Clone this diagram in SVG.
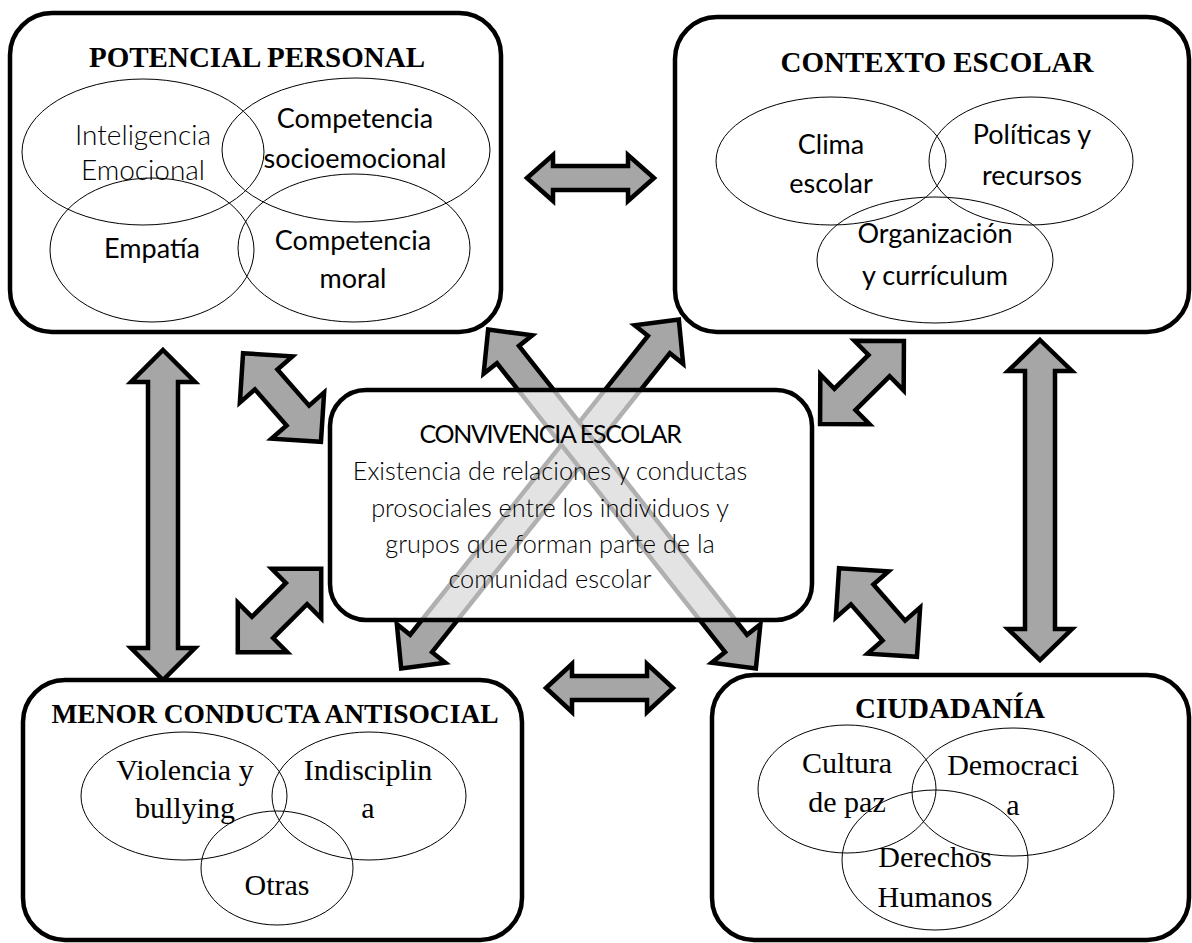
<svg xmlns="http://www.w3.org/2000/svg" width="1192" height="943" viewBox="0 0 1192 943">
<style>
.box{fill:#fff;stroke:#000;stroke-width:4.5}
.cbox{fill:#fff;fill-opacity:0.69;stroke:#000;stroke-width:4.5}
.ell{fill:none;stroke:#000;stroke-width:1}
.arr{fill:#a6a6a6;stroke:#000;stroke-width:4.5;stroke-linejoin:miter}
.ttl{font-family:"Liberation Serif","Times New Roman",serif;font-weight:bold;text-anchor:middle;fill:#000}
.ser{font-family:"Liberation Serif","Times New Roman",serif;font-size:30px;text-anchor:middle;fill:#000}
.san{font-family:Lato,"Noto Sans",sans-serif;text-anchor:middle;fill:#000}
.lgt{font-family:Lato,"Noto Sans",sans-serif;font-weight:300;text-anchor:middle;fill:#000}
</style>
<rect width="1192" height="943" fill="#fff"/>

<g id="connectors">
  <path class="arr" transform="translate(590.5,178)" d="M-63.5,0 L-37.5,-23 L-37.5,-12 L37.5,-12 L37.5,-23 L63.5,0 L37.5,23 L37.5,12 L-37.5,12 L-37.5,23 Z"/>
  <path class="arr" transform="translate(609.5,688)" d="M-63.5,0 L-37.5,-24 L-37.5,-12 L37.5,-12 L37.5,-24 L63.5,0 L37.5,24 L37.5,12 L-37.5,12 L-37.5,24 Z"/>
  <path class="arr" transform="translate(163,515) rotate(90)" d="M-165,0 L-133,-32 L-133,-15 L133,-15 L133,-32 L165,0 L133,32 L133,15 L-133,15 L-133,32 Z"/>
  <path class="arr" transform="translate(1040,500) rotate(90)" d="M-160,0 L-129,-32 L-129,-15 L129,-15 L129,-32 L160,0 L129,32 L129,15 L-129,15 L-129,32 Z"/>
  <path class="arr" transform="translate(282,397.5) rotate(48.7)" d="M-59,0 L-24,-35 L-24,-15 L24,-15 L24,-35 L59,0 L24,35 L24,15 L-24,15 L-24,35 Z"/>
  <path class="arr" transform="translate(279.5,610.5) rotate(-45)" d="M-59,0 L-24,-35 L-24,-15 L24,-15 L24,-35 L59,0 L24,35 L24,15 L-24,15 L-24,35 Z"/>
  <path class="arr" transform="translate(862,382.5) rotate(-44.7)" d="M-59,0 L-24,-35 L-24,-15 L24,-15 L24,-35 L59,0 L24,35 L24,15 L-24,15 L-24,35 Z"/>
  <path class="arr" transform="translate(878,612.5) rotate(48.7)" d="M-59,0 L-24,-35 L-24,-15 L24,-15 L24,-35 L59,0 L24,35 L24,15 L-24,15 L-24,35 Z"/>
  <path class="arr" transform="translate(540,494) rotate(-51.5)" d="M-223,0 L-191,-31 L-191,-14 L191,-14 L191,-31 L223,0 L191,31 L191,14 L-191,14 L-191,31 Z"/>
  <path class="arr" transform="translate(622,499) rotate(51.7)" d="M-216,0 L-184,-31 L-184,-14 L184,-14 L184,-31 L216,0 L184,31 L184,14 L-184,14 L-184,31 Z"/>
</g>

<g id="potencial-personal">
  <rect class="box" x="10" y="13" width="491" height="319" rx="42"/>
  <text class="ttl" x="257" y="67" font-size="29">POTENCIAL PERSONAL</text>
  <ellipse class="ell" cx="143" cy="152" rx="121" ry="73"/>
  <ellipse class="ell" cx="356" cy="150" rx="134" ry="72"/>
  <ellipse class="ell" cx="152" cy="250" rx="102" ry="72"/>
  <ellipse class="ell" cx="354" cy="248" rx="116" ry="74"/>
  <text class="lgt" x="143" y="145" font-size="28" fill="#333">Inteligencia</text>
  <text class="lgt" x="143" y="180" font-size="28" fill="#333">Emocional</text>
  <text class="san" x="355" y="128" font-size="27">Competencia</text>
  <text class="san" x="355" y="168" font-size="27">socioemocional</text>
  <text class="san" x="152" y="258" font-size="27">Empatía</text>
  <text class="san" x="353" y="250" font-size="27">Competencia</text>
  <text class="san" x="353" y="288" font-size="27">moral</text>
</g>

<g id="contexto-escolar">
  <rect class="box" x="675" y="17" width="514" height="315" rx="42"/>
  <text class="ttl" x="937" y="72" font-size="29">CONTEXTO ESCOLAR</text>
  <ellipse class="ell" cx="831" cy="161" rx="115" ry="64"/>
  <ellipse class="ell" cx="1031" cy="161" rx="102" ry="64"/>
  <ellipse class="ell" cx="935" cy="260" rx="118" ry="63"/>
  <text class="san" x="831" y="154" font-size="27">Clima</text>
  <text class="san" x="831" y="193" font-size="27">escolar</text>
  <text class="san" x="1032" y="144" font-size="27">Políticas y</text>
  <text class="san" x="1032" y="185" font-size="27">recursos</text>
  <text class="san" x="935" y="243" font-size="27">Organización</text>
  <text class="san" x="935" y="285" font-size="27">y currículum</text>
</g>

<g id="convivencia-escolar">
  <rect class="cbox" x="330" y="390" width="482" height="230" rx="36"/>
  <text class="san" x="550" y="443" font-size="25" letter-spacing="-1.3">CONVIVENCIA ESCOLAR</text>
  <text class="lgt" x="550" y="480" font-size="25.3">Existencia de relaciones y conductas</text>
  <text class="lgt" x="550" y="517" font-size="25.3">prosociales entre los individuos y</text>
  <text class="lgt" x="550" y="553" font-size="25.3">grupos que forman parte de la</text>
  <text class="lgt" x="550" y="588" font-size="25.3">comunidad escolar</text>
</g>

<g id="menor-conducta-antisocial">
  <rect class="box" x="23" y="680" width="499" height="260" rx="42"/>
  <text class="ttl" x="275" y="723" font-size="27.5">MENOR CONDUCTA ANTISOCIAL</text>
  <ellipse class="ell" cx="184" cy="796" rx="103" ry="64"/>
  <ellipse class="ell" cx="369" cy="796" rx="97" ry="64"/>
  <ellipse class="ell" cx="277" cy="868" rx="76" ry="57"/>
  <text class="ser" x="185" y="780">Violencia y</text>
  <text class="ser" x="185" y="818">bullying</text>
  <text class="ser" x="368" y="780">Indisciplin</text>
  <text class="ser" x="368" y="818">a</text>
  <text class="ser" x="277" y="895">Otras</text>
</g>

<g id="ciudadania">
  <rect class="box" x="712" y="675" width="477" height="265" rx="42"/>
  <text class="ttl" x="950" y="718" font-size="29">CIUDADANÍA</text>
  <ellipse class="ell" cx="847" cy="789" rx="89" ry="64"/>
  <ellipse class="ell" cx="1013" cy="792" rx="101" ry="64"/>
  <ellipse class="ell" cx="935" cy="860" rx="93" ry="70"/>
  <text class="ser" x="847" y="773">Cultura</text>
  <text class="ser" x="847" y="812">de paz</text>
  <text class="ser" x="1013" y="775">Democraci</text>
  <text class="ser" x="1013" y="815">a</text>
  <text class="ser" x="935" y="867">Derechos</text>
  <text class="ser" x="935" y="907">Humanos</text>
</g>
</svg>
